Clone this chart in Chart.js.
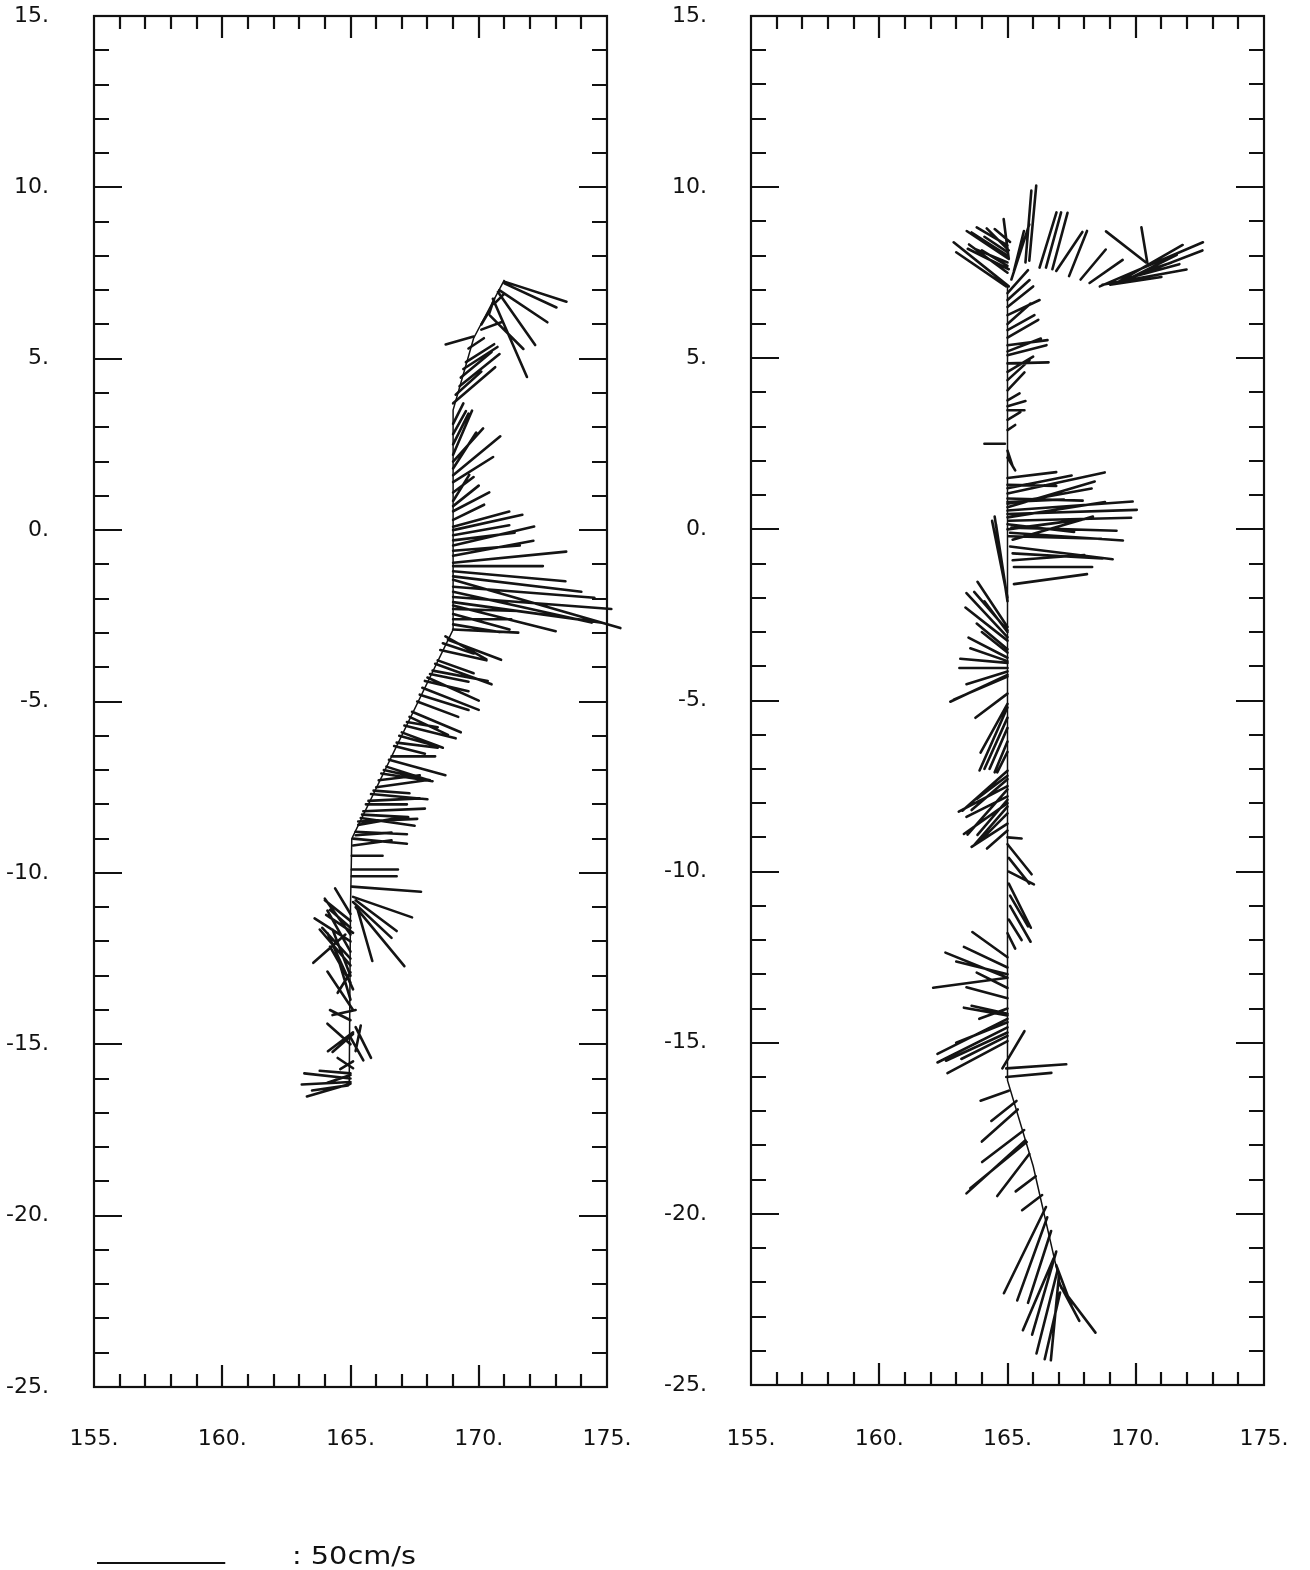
<!DOCTYPE html>
<html>
<head>
<meta charset="utf-8">
<script src="https://cdn.jsdelivr.net/npm/chart.js@4.4.1/dist/chart.umd.min.js"></script>
<style>
  body { margin: 0; background: #fff; }
  #wrap { position: relative; width: 1310px; height: 1570px; }
  #west { position: absolute; left: 0; top: 0; }
  #east { position: absolute; left: 655px; top: 0; }
</style>
</head>
<body>
<div id="wrap">
  <canvas id="west" width="650" height="1570"></canvas>
  <canvas id="east" width="655" height="1570"></canvas>
</div>
<script>
// current sticks along the two sections: start position (lon E, lat N) and u/v components in cm/s
var westLon = [165.0,165.0,164.9,165.0,165.0,165.1,165.0,165.1,165.2,165.0,
  165.1,165.2,165.0,165.1,165.0,165.1,165.0,165.0,165.0,164.8,
  165.0,165.0,165.0,165.0,165.0,165.1,165.2,165.1,165.2,165.25,
  165.1,165.1,165.2,165.05,165.05,165.05,165.05,165.1,165.3,165.5,
  166.0,166.4,166.9,167.4,167.8,168.2,168.8,165.1,165.2,165.3,
  165.4,165.6,165.8,166.1,166.2,166.6,166.7,167.0,167.2,167.6,
  167.9,168.0,168.4,168.5,168.7,169.0,169.0,169.0,169.0,169.0,
  169.0,169.0,169.0,169.0,169.0,169.0,169.0,169.0,169.0,169.0,
  169.0,169.0,169.0,169.0,169.0,169.0,169.0,169.0,169.0,169.0,
  169.0,169.0,169.0,169.0,169.0,169.25,169.4,169.1,169.3,169.5,
  169.8,171.0,171.0,170.8,170.75,170.55,170.45,170.1,169.6,170.1,
  170.4,170.6,
  165.2,165.45,165.7,165.9,166.3,166.5,166.8,167.1,167.3,167.7,
  168.1,168.3,168.6,165.0,165.0,165.0,165.0,169.0,169.0,169.0,
  169.0,169.0,169.0];
var westLat = [-16.1,-16.0,-16.2,-15.9,-16.15,-15.7,-15.85,-15.5,-15.2,-15.0,
  -14.7,-14.5,-14.3,-14.0,-13.7,-13.4,-13.0,-12.7,-12.5,-11.8,
  -12.0,-11.8,-11.6,-11.4,-11.2,-11.75,-14.0,-14.65,-11.0,-11.0,
  -10.85,-10.7,-10.8,-10.4,-10.1,-9.9,-9.5,-9.0,-8.5,-8.2,
  -7.5,-6.9,-6.0,-5.3,-4.6,-4.1,-3.2,-9.2,-8.8,-8.6,
  -8.4,-8.0,-7.7,-7.3,-7.1,-6.6,-6.3,-5.9,-5.6,-5.0,
  -4.4,-4.3,-3.8,-3.5,-3.1,-2.9,-2.6,-2.3,-1.95,-1.45,
  -1.65,-1.2,-0.95,-0.75,-0.45,-0.15,0.1,0.3,0.55,0.85,
  1.4,1.6,2.0,2.2,-1.8,-2.1,-2.45,-1.05,-0.6,0.0,
  -2.75,2.5,2.8,3.1,3.7,4.2,4.7,3.95,4.45,4.9,
  5.65,7.25,7.2,7.0,6.95,6.75,6.25,5.85,5.3,6.0,
  6.3,6.6,
  -8.9,-8.3,-7.9,-7.6,-7.0,-6.7,-6.2,-5.7,-5.45,-4.8,
  -4.2,-3.9,-3.3,-12.3,-13.2,-14.8,-12.9,-2.2,-1.35,-0.3,
  0.7,1.1,1.8];
var westU = [-19,-18,-14,-9,-17,-6,-12,-5,2,-9,
  -8,6,-8,-10,-6,-10,-7,-12,-11,-12.5,
  -14,-10,-8,-10,-6,-10.5,-9,-9.8,19,6,
  15,23,16,27,17.5,18,12,21,23,24,
  19.5,15.6,14.5,19,22,21.5,20.7,15,20,17,
  21,16,22,16,20,17,12,16,12,16,
  17,20,14,18,16,25.4,22.7,25.4,61.7,65.2,
  55.1,43.8,44.1,31.3,31.6,21.9,21.9,12.1,14.1,6.3,
  15.6,18.4,11.7,7.4,54,58,22,35,26,27,
  18,6,5,4,16.4,15.6,13.3,10,12,11,
  -10.9,24.2,20.3,18.75,14.5,13.3,12.9,8,6,3,
  2,4,
  14,18,20,14,18,22,16,20,15,19,
  15,22,12,-9,-8,5,-5,40,50,24,
  10,8,9];
var westV = [-1,2,-2,-3,-5,4,1,-3,10,8,
  -7,-12,4,15,20,22,18,14,12,-11,
  9,14,7,8,10,7,-2,-7.4,-23,-21,
  -14,-8,-12,-2,0,0,0,-2,1,1,
  2.7,-5,-4,-8,-8.6,-4,-7.8,2,-1,3,
  -3,0,-2,2,-3,0,-3,-6,-2,-6,
  -4,-9,-5,-4,-9,-1.2,0,-0.8,-4.7,-18.8,
  -4.3,-3.9,4.3,5.9,7.4,3.9,5.9,5.9,7.4,10.2,
  9.8,15.2,12.9,17.2,-12,-8,-6,0,2,6,
  -3,12,9,8,14.1,12.5,8.6,9,10,7,
  -3.1,-7.8,-9.4,-12.5,-20.7,-30.5,-12.9,3,4,5,
  6,4,
  1,-1,1,-1,-4,-6,-2,-5,-7,-6,
  -3,-8,-4,16,14,-9,-8,-10,-6,3,
  8,6,14];

var eastLon = [165.05,164.95,165.05,165.05,165.05,165.85,165.7,165.15,165.25,165.0,
  165.0,165.0,165.0,165.1,165.05,166.25,166.5,166.75,166.9,167.4,
  167.85,168.2,168.6,168.7,169.25,170.4,170.45,169.5,169.8,170.0,
  170.2,169.0,165.0,165.0,165.0,165.0,165.0,165.0,165.0,165.0,
  165.0,165.0,165.0,165.0,165.0,165.0,165.0,165.0,165.0,165.0,
  165.0,164.9,165.0,165.0,165.0,165.0,165.0,165.0,165.0,165.0,
  165.0,165.05,165.15,165.2,165.25,165.25,165.1,165.1,165.2,165.2,
  165.0,165.0,165.0,165.0,165.0,165.0,164.95,165.0,165.0,165.0,
  165.0,165.0,165.0,165.0,165.0,165.0,165.0,165.0,165.0,165.0,
  165.0,165.0,165.0,165.0,165.0,165.0,165.0,165.0,165.0,165.0,
  165.0,165.0,165.0,165.0,165.0,165.0,165.0,165.0,165.05,165.05,
  165.05,165.1,165.1,165.05,165.0,165.0,165.0,165.0,165.0,165.0,
  165.0,165.0,165.0,165.0,165.0,165.0,165.0,165.0,165.0,164.8,
  164.95,164.95,165.05,165.35,165.4,165.65,165.7,165.75,165.85,166.1,
  166.35,166.5,166.55,166.7,166.9,166.95,167.0,167.1,167.0,166.9,
  166.8,167.05,
  165.0,165.0,165.05,165.0,165.0,165.0,165.0,165.0,165.0,165.0,
  165.0];
var eastLat = [7.1,7.1,7.9,8.15,7.9,7.85,7.8,7.3,7.55,8.3,
  8.0,7.7,7.5,8.4,7.6,7.65,7.65,7.6,7.55,7.4,
  7.3,7.2,7.1,7.15,7.2,7.8,7.8,7.3,7.35,7.4,
  7.5,7.15,6.9,6.7,6.5,6.26,6.0,5.82,5.6,5.38,
  5.2,5.09,4.85,4.6,4.36,4.06,3.77,3.6,3.48,3.2,
  2.9,2.5,2.3,2.1,1.5,1.3,1.05,0.9,0.75,0.55,
  0.45,0.25,0.05,-0.3,-1.1,-1.6,-0.1,-0.5,-0.7,-0.9,
  1.2,0.65,0.35,0.0,-2.1,-2.0,-1.8,-2.85,-2.95,-3.15,
  -3.25,-3.75,-3.85,-3.9,-4.05,-4.25,-4.3,-4.8,-5.1,-5.2,
  -5.5,-3.5,-3.6,-5.8,-6.2,-6.5,-7.05,-7.6,-7.9,-7.3,
  -7.5,-7.8,-8.1,-8.3,-8.6,-8.8,-9.0,-9.2,-9.6,-10.0,
  -10.35,-10.7,-11.0,-11.4,-11.8,-12.5,-13.1,-13.1,-12.8,-13.0,
  -13.7,-14.15,-14.2,-14.3,-14.55,-14.95,-14.4,-14.7,-14.0,-15.75,
  -15.75,-16.0,-16.4,-16.7,-16.95,-17.55,-17.85,-17.9,-18.25,-18.9,
  -19.45,-19.8,-20.1,-20.5,-21.1,-21.65,-21.85,-22.15,-22.0,-21.5,
  -21.3,-22.3,
  0.8,0.15,-0.2,-3.0,-4.15,-7.2,-8.0,-13.4,-14.8,8.1,
  7.8];
var eastU = [-21.5,-19.5,-16.4,-8.6,-2,2.7,2.3,7,3.9,-12,
  -14,-10,-15,-6,-16,6.6,5.9,5.9,10.2,7,
  9.8,12.9,40.2,32.8,25.8,-15.6,-2.3,22,18,26,
  12,20,8,8.6,10,12.5,9,10.5,12,15.6,
  13,15.2,16,10,8.6,6.6,4.7,7,6.6,5,
  3,-8,2,3,19,19,37.9,29.3,32.8,48.8,
  50.4,47.7,41,31.3,30.5,28.5,44,40,35,28,
  25,34,38,30,-5,-6,-4,-11.7,-13,-16,
  -16.4,-15.2,-14.5,-18.4,-18.75,-22.3,-21,-12.5,-10.5,-10.9,
  -9,-12,-10,-7,-5,-4,-17.6,-15.6,-11.7,-14,
  -19,-16,-13,-10,-14,-8,5.5,9.4,8,9.8,
  8.6,7,8,5,3,-13.7,-24.2,-29,-17,-20,
  -16,-14,-17,-27.3,-27.3,-23.4,-20,-24,-11,8.6,
  23.4,17.6,-11,-9.8,-14,-16.4,-23,-22,-12.5,-7.8,
  -7.8,-16.4,-11.7,-9,-9.4,-8.2,-3.1,13.3,8,6,
  -12,-6,
  22,26,36,-9,-16,-12,-17,-12,-18,-9,
  -12];
var eastV = [17.2,13.3,10.9,8.6,15.6,29.3,28,21.5,15.6,7,
  9,6,11,5,8,21.5,21.5,22,15.2,17.6,
  11.7,9,17.2,5.9,14.8,12.1,13.7,6,9,10,
  4,3,9,7.8,8,5.9,8,5.9,7,2,
  5,3.9,0.4,6,7.8,7,2.7,2,0,3,
  2,0,-6,-5,2.3,-0.4,8.2,-0.8,5.9,3.5,
  1.6,1.2,-1.2,9,0,3.9,-3,-5,-2,2,
  5,10,6,4,33,30,26,17.6,15,17.2,
  12.9,7.8,5,1.6,0,-10.5,-9,-9.4,-19,-24.6,
  -20,10,8,-16,-12,-8,-15.6,-17.6,-13.7,-12,
  -10,-8,-15,-10,-9,-7,-0.4,-11.7,-10,-5,
  -17.2,-12,-14,-8,-6,9.8,9.8,-3.9,8,5,
  4.3,3.1,3,-13.7,-13.7,-12.5,-8,-11,-4,14.5,
  1.6,1.6,-3.9,-7.8,-12.5,-12.5,-20.7,-18,-16.4,-5.9,
  -5.9,-33.6,-32.4,-28,-32.4,-32.4,-32.4,-17.6,-15,-16,
  -28,-26,
  1,-3,-1,12,-5,-9,-12,6,-9,6,
  5];

// ship track waypoints
var westTrackLon = [164.95, 165.0, 165.05, 169.0, 169.0, 169.8, 171.0];
var westTrackLat = [-16.2, -11.0, -9.0, -2.9, 3.5, 5.6, 7.3];
var eastTrackLon = [165.0, 165.0, 166.0, 167.1];
var eastTrackLat = [7.1, -16.1, -18.6, -22.2];

var lonTicks = [155, 175];
var latTicks = [-25, 15];
var refSpeed = 50;             // cm/s, length of the reference bar
var KX = 5 / refSpeed;         // degrees of longitude per cm/s

Chart.defaults.font.family = 'DejaVu Sans';
Chart.defaults.font.size = 22;
Chart.defaults.color = '#111';

function sticks(lon, lat, u, v, ky) {
  var pts = [];
  for (var i = 0; i < lon.length; i++) {
    pts.push({x: lon[i], y: lat[i]});
    pts.push({x: lon[i] + u[i] * KX, y: lat[i] + v[i] * ky});
    pts.push({x: NaN, y: NaN});
  }
  return pts;
}

function track(lon, lat) {
  return lon.map(function(x, i) { return {x: x, y: lat[i]}; });
}

// frame with inward ticks every degree, longer every 5
var framePlugin = {
  id: 'frame',
  afterDraw: function(chart) {
    var ctx = chart.ctx, a = chart.chartArea;
    var xs = chart.scales.x, ys = chart.scales.y;
    ctx.save();
    ctx.strokeStyle = '#111';
    ctx.lineWidth = 2.2;
    ctx.strokeRect(a.left, a.top, a.right - a.left, a.bottom - a.top);
    ctx.beginPath();
    for (var lon = lonTicks[0] + 1; lon < lonTicks[1]; lon++) {
      var px = Math.round(xs.getPixelForValue(lon));
      var len = lon % 5 === 0 ? 22 : 13;
      ctx.moveTo(px, a.top); ctx.lineTo(px, a.top + len);
      ctx.moveTo(px, a.bottom); ctx.lineTo(px, a.bottom - len);
    }
    for (var lat = latTicks[0] + 1; lat < latTicks[1]; lat++) {
      var py = Math.round(ys.getPixelForValue(lat));
      var l2 = lat % 5 === 0 ? 28 : 15;
      ctx.moveTo(a.left, py); ctx.lineTo(a.left + l2, py);
      ctx.moveTo(a.right, py); ctx.lineTo(a.right - l2, py);
    }
    ctx.stroke();
    ctx.restore();
  }
};

// reference vector below the west panel
var scaleBarPlugin = {
  id: 'scaleBar',
  afterDraw: function(chart) {
    var ctx = chart.ctx, xs = chart.scales.x;
    var x0 = xs.getPixelForValue(lonTicks[0]) + 3;
    var x1 = x0 + (xs.getPixelForValue(lonTicks[0] + refSpeed * KX) - xs.getPixelForValue(lonTicks[0]));
    ctx.save();
    ctx.strokeStyle = '#111';
    ctx.lineWidth = 2;
    ctx.beginPath();
    ctx.moveTo(x0, 1563); ctx.lineTo(x1, 1563);
    ctx.stroke();
    ctx.fillStyle = '#111';
    ctx.font = '25px "DejaVu Sans"';
    ctx.textBaseline = 'alphabetic';
    ctx.translate(292, 1564);
    ctx.scale(1.15, 1);
    ctx.fillText(': ' + refSpeed + 'cm/s', 0, 0);
    ctx.restore();
  }
};

function makePanel(id, lon, lat, u, v, tLon, tLat, box, plugins) {
  var plotW = box.right - box.left, plotH = box.bottom - box.top;
  var ky = KX * (plotW / (lonTicks[1] - lonTicks[0])) / (plotH / (latTicks[1] - latTicks[0]));
  var canvas = document.getElementById(id);
  return new Chart(canvas, {
    type: 'scatter',
    data: {
      datasets: [{
        data: track(tLon, tLat),
        showLine: true,
        borderColor: '#111',
        borderWidth: 1.5,
        pointRadius: 0
      }, {
        data: sticks(lon, lat, u, v, ky),
        showLine: true,
        spanGaps: false,
        borderColor: '#141414',
        borderWidth: 2.6,
        borderCapStyle: 'round',
        pointRadius: 0,
        clip: false
      }]
    },
    options: {
      responsive: false,
      animation: false,
      events: [],
      layout: {padding: {top: box.top, right: canvas.width - box.right, left: 0, bottom: 0}},
      plugins: {legend: {display: false}, tooltip: {enabled: false}},
      scales: {
        x: {
          type: 'linear', min: lonTicks[0], max: lonTicks[1],
          // tick marks are drawn by the frame plugin; tickLength only spaces the labels
          grid: {display: false, drawTicks: true, tickLength: box.xPad},
          border: {display: false},
          ticks: {stepSize: 5, padding: 0, maxRotation: 0,
                  callback: function(val) { return val + '.'; }},
          afterFit: function(s) { s.height = canvas.height - box.bottom; }
        },
        y: {
          type: 'linear', min: latTicks[0], max: latTicks[1],
          grid: {display: false, drawTicks: true, tickLength: box.yPad},
          border: {display: false},
          ticks: {stepSize: 5, padding: 0,
                  callback: function(val) { return val + '.'; }},
          afterFit: function(s) { s.width = box.left; }
        }
      }
    },
    plugins: plugins
  });
}

makePanel('west', westLon, westLat, westU, westV, westTrackLon, westTrackLat,
  {left: 94, right: 607, top: 16, bottom: 1387, xPad: 39, yPad: 45},
  [framePlugin, scaleBarPlugin]);
makePanel('east', eastLon, eastLat, eastU, eastV, eastTrackLon, eastTrackLat,
  {left: 96, right: 609, top: 16, bottom: 1385, xPad: 41, yPad: 44},
  [framePlugin]);
</script>
</body>
</html>
